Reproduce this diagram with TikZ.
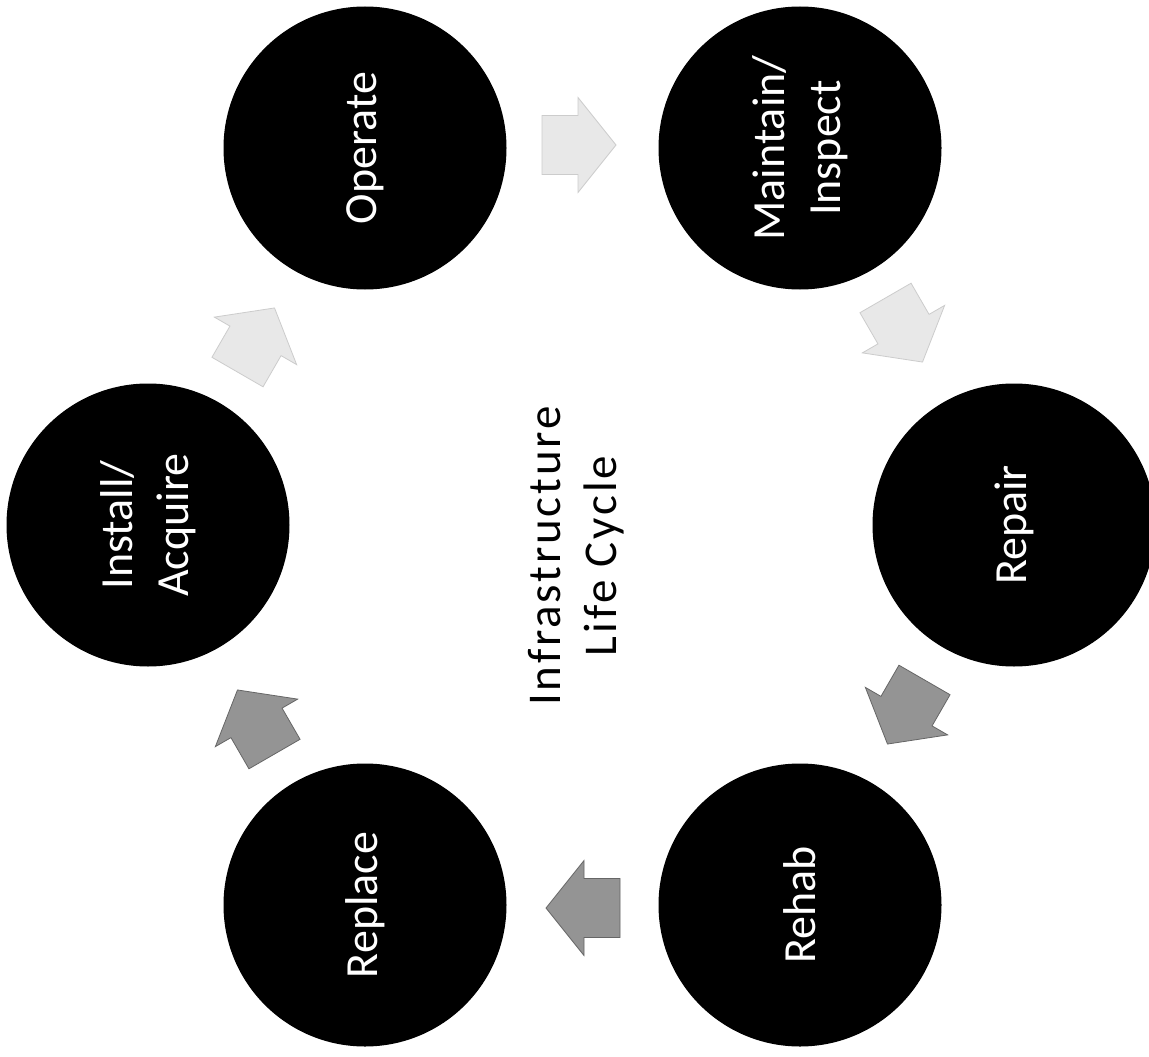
\documentclass[tikz,border=0pt]{standalone}
\usepackage{fontspec}
\setmainfont{Carlito}
\newfontfamily\titlefont[LetterSpace=6]{Carlito}
\begin{document}
\begin{tikzpicture}[x=1pt,y=-1pt,
  stage/.style={circle,fill=black,minimum size=283pt,inner sep=0pt,text=white,
    font=\fontsize{46}{56}\selectfont,align=center},
  rtext/.style={rotate=90,text=white,font=\fontsize{46}{56}\selectfont,align=center,inner sep=0pt},
  title/.style={rotate=90,text=black,font=\titlefont\fontsize{47}{56}\selectfont,align=center,inner sep=0pt},
  darkarrow/.pic={\draw[fill=black!42,draw=black!60,line width=0.8pt]
    (-37,-29.5) -- (-1,-29.5) -- (-1,-47.5) -- (37,0) -- (-1,47.5) -- (-1,29.5) -- (-37,29.5) -- cycle;},
  lightarrow/.pic={\draw[fill=black!9,draw=black!20,line width=0.8pt]
    (-37,-29.5) -- (-1,-29.5) -- (-1,-47.5) -- (37,0) -- (-1,47.5) -- (-1,29.5) -- (-37,29.5) -- cycle;}
]
\useasboundingbox (0,0) rectangle (1149,1057);
\clip (0,0) rectangle (1149,1057);
\fill[white] (0,0) rectangle (1149,1057);

% stage circles
\node[stage] (operate)  at (365,148) {};
\node[stage] (maintain) at (800,148) {};
\node[stage] (repair)   at (1014,525) {};
\node[stage] (rehab)    at (800,905) {};
\node[stage] (replace)  at (365,905) {};
\node[stage] (install)  at (148,525) {};

% rotated labels
\node[rtext] (toperate)  at (operate)  {Operate};
\node[rtext] (tmaintain) at (maintain) {Maintain/\\Inspect};
\node[rtext] (trepair)   at (repair)   {Repair};
\node[rtext] (trehab)    at (rehab)    {Rehab};
\node[rtext] (treplace)  at (replace)  {Replace};
\node[rtext] (tinstall)  at (install)  {Install/\\Acquire};

% centre title
\node[title] (ttl) at (576,556) {Infrastructure\\Life Cycle};

% block arrows of the cycle
\pic[rotate=0]   at (579,145) {lightarrow};
\pic[rotate=-60] at (904,330) {lightarrow};
\pic[rotate=-120] at (906,712) {darkarrow};
\pic[rotate=180] at (583,908) {darkarrow};
\pic[rotate=120] at (256,722) {darkarrow};
\pic[rotate=60]  at (256,340) {lightarrow};
\end{tikzpicture}
\end{document}
